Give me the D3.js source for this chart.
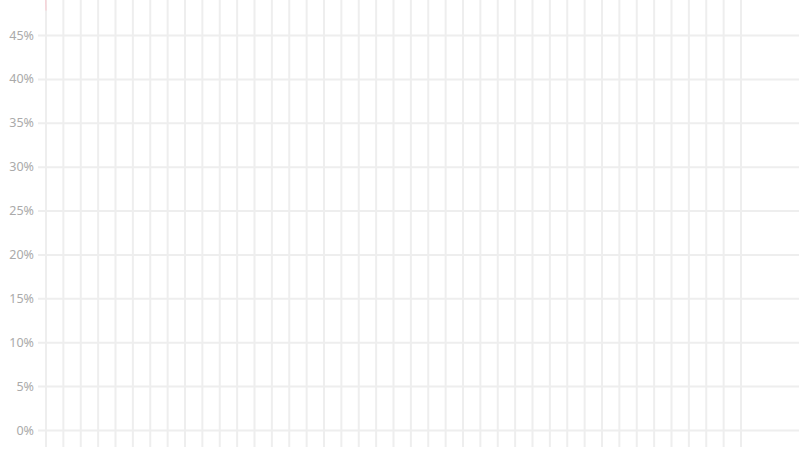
<!DOCTYPE html>
<html>
<head>
<meta charset="utf-8">
<script src="https://cdn.jsdelivr.net/npm/d3@7"></script>
<style>
  html, body { margin: 0; padding: 0; background: #fff; }
  svg text { font-family: "Noto Sans", "DejaVu Sans", sans-serif; }
</style>
</head>
<body>
<div id="chart"></div>
<script>
// x categories (41 periods, labels not shown in the picture)
const periods = d3.range(1, 42);
// y tick values
const yTicks = [0, 0.05, 0.10, 0.15, 0.20, 0.25, 0.30, 0.35, 0.40, 0.45];
// the only visible trace: a faint line leaving the top-left corner
const tracePeriods = [0.95, 1];
const traceValues = [0.52, 0.478];

const svgWidth = 799;
const svgHeight = 449;
const gridLeft = 38;

const svg = d3.select('#chart')
  .append('svg')
  .attr('width', svgWidth)
  .attr('height', svgHeight);

const xScale = d3.scaleLinear()
  .domain([1, 41])
  .range([46, 741]);

const yScale = d3.scaleLinear()
  .domain([0, 0.45])
  .range([430, 35]);

// vertical grid
svg.append('g')
  .selectAll('line')
  .data(periods)
  .enter().append('line')
  .attr('x1', d => xScale(d))
  .attr('x2', d => xScale(d))
  .attr('y1', 0)
  .attr('y2', 447)
  .attr('stroke', '#eeeeee')
  .attr('stroke-width', 2);

// horizontal grid + labels
const yAxis = svg.append('g')
  .attr('transform', `translate(${gridLeft},0)`)
  .call(d3.axisLeft(yScale)
    .tickValues(yTicks)
    .tickSize(-(svgWidth - gridLeft))
    .tickPadding(4)
    .tickFormat(d3.format('.0%')));

yAxis.select('.domain').remove();
yAxis.selectAll('.tick line')
  .attr('stroke', '#eeeeee')
  .attr('stroke-width', 2);
yAxis.selectAll('.tick text')
  .attr('fill', '#aaaaaa')
  .style('font-size', '12.5px');

// faint trace
const line = d3.line()
  .x(d => xScale(d[0]))
  .y(d => yScale(d[1]));

svg.append('path')
  .datum(d3.zip(tracePeriods, traceValues))
  .attr('d', line)
  .attr('fill', 'none')
  .attr('stroke', '#f6d3d8')
  .attr('stroke-width', 1.5);
</script>
</body>
</html>
